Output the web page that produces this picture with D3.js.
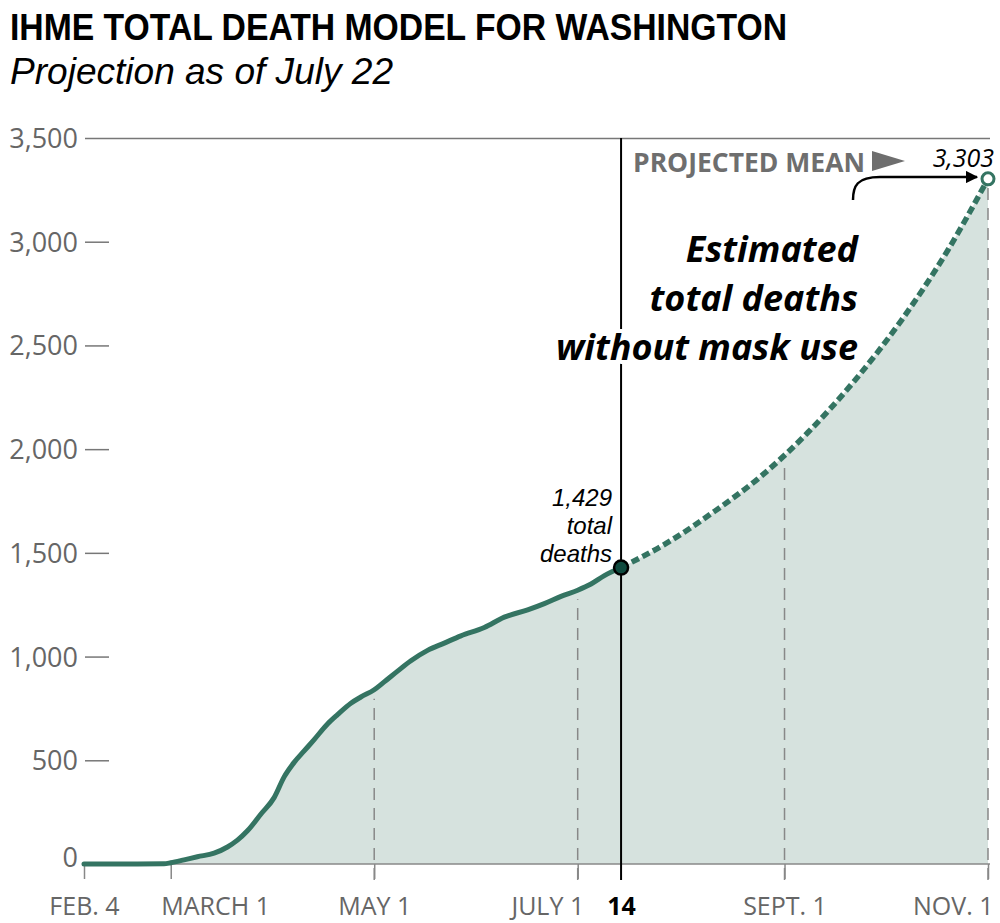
<!DOCTYPE html>
<html lang="en">
  <head>
    <meta charset="UTF-8" />
    <title>IHME Total Death Model for Washington</title>
    <script src="https://cdnjs.cloudflare.com/ajax/libs/d3/7.8.5/d3.min.js"></script>
    <style>
      body { margin: 0; background: #fff; }
      svg { display: block; }
      .cond { font-family: "Open Sans", sans-serif; }
      .head { font-family: "Liberation Sans", Arial, sans-serif; }
    </style>
  </head>
  <body>
    <div id="chart"></div>

    <script>
      // Observed cumulative deaths
      const actualDates = [
        "2020-02-04", "2020-02-20", "2020-02-28", "2020-03-01", "2020-03-05",
        "2020-03-09", "2020-03-14", "2020-03-18", "2020-03-21", "2020-03-24",
        "2020-03-28", "2020-04-01", "2020-04-04", "2020-04-07", "2020-04-10",
        "2020-04-13", "2020-04-17", "2020-04-20", "2020-04-24", "2020-04-27",
        "2020-05-01", "2020-05-04", "2020-05-08", "2020-05-12", "2020-05-17",
        "2020-05-22", "2020-05-27", "2020-06-03", "2020-06-09", "2020-06-16",
        "2020-06-21", "2020-06-26", "2020-07-01", "2020-07-05", "2020-07-09",
        "2020-07-14"
      ];
      const actualValues = [
        0, 0, 1, 6, 20,
        35, 52, 82, 115, 160,
        240, 320, 420, 490, 545,
        600, 675, 720, 775, 805,
        840, 878, 930, 980, 1030,
        1065, 1100, 1140, 1190, 1225,
        1255, 1290, 1320, 1350, 1390,
        1429
      ];

      // Projected mean (no mask use)
      const projDates = [
        "2020-07-14", "2020-07-28", "2020-08-11", "2020-08-25", "2020-09-08",
        "2020-09-22", "2020-10-06", "2020-10-20", "2020-11-01"
      ];
      const projValues = [1429, 1550, 1700, 1870, 2080, 2330, 2620, 2960, 3303];

      const yTicks = [0, 500, 1000, 1500, 2000, 2500, 3000, 3500];
      const xTickDates = ["2020-02-04", "2020-03-01", "2020-05-01", "2020-07-01", "2020-07-14", "2020-09-01", "2020-11-01"];
      const xTickLabels = ["FEB. 4", "MARCH 1", "MAY 1", "JULY 1", "14", "SEPT. 1", "NOV. 1"];
      const gridDates = ["2020-05-01", "2020-07-01", "2020-09-01", "2020-11-01"];

      const parse = d3.timeParse("%Y-%m-%d");
      const actual = actualDates.map((d, i) => ({ date: parse(d), value: actualValues[i] }));
      const proj = projDates.map((d, i) => ({ date: parse(d), value: projValues[i] }));
      const all = actual.concat(proj.slice(1));

      const width = 1000;
      const height = 923;
      const green = "#347462";
      const fillColor = "#d6e2de";
      const gray = "#666";

      const svg = d3.select("#chart").append("svg")
        .attr("width", width).attr("height", height);

      const x = d3.scaleTime()
        .domain([parse("2020-02-04"), parse("2020-11-01")])
        .range([84, 988]);
      const y = d3.scaleLinear().domain([0, 3500]).range([864, 138]);

      // title (squeezed to mimic the condensed face)
      svg.append("text").attr("class", "head")
        .attr("x", 10).attr("y", 40)
        .attr("font-size", 37).attr("font-weight", "bold")
        .attr("textLength", 777).attr("lengthAdjust", "spacingAndGlyphs")
        .text("IHME TOTAL DEATH MODEL FOR WASHINGTON");
      svg.append("text").attr("class", "head")
        .attr("x", 10).attr("y", 84)
        .attr("font-size", 36).attr("font-style", "italic")
        .attr("textLength", 383).attr("lengthAdjust", "spacingAndGlyphs")
        .text("Projection as of July 22");

      // area
      const area = d3.area().curve(d3.curveMonotoneX)
        .x(d => x(d.date)).y0(y(0)).y1(d => y(d.value));
      svg.append("path").datum(all).attr("d", area).attr("fill", fillColor);

      // value along the curve at a date
      const bis = d3.bisector(d => d.date).left;
      function valueAt(date) {
        const i = bis(all, date);
        if (i <= 0) return all[0].value;
        if (i >= all.length) return all[all.length - 1].value;
        const a = all[i - 1], b = all[i];
        const t = (date - a.date) / (b.date - a.date);
        return a.value + t * (b.value - a.value);
      }

      // dashed gridlines under the curve
      svg.append("g").selectAll("line")
        .data(gridDates.map(parse))
        .join("line")
        .attr("x1", d => x(d)).attr("x2", d => x(d))
        .attr("y1", 880).attr("y2", d => y(valueAt(d)) + 9)
        .attr("stroke", "#888").attr("stroke-width", 1.5)
        .attr("stroke-dasharray", "12,8");

      // y axis
      const yAxis = d3.axisLeft(y).tickValues(yTicks).tickSize(0).tickPadding(0)
        .tickFormat(d3.format(","));
      const yg = svg.append("g").attr("transform", "translate(78,0)").call(yAxis);
      yg.select(".domain").remove();
      yg.selectAll("text")
        .attr("font-family", "'Open Sans', sans-serif")
        .attr("font-size", 27).attr("fill", gray)
        .attr("dy", d => d === 0 ? "0.1em" : "0.35em");
      yg.selectAll(".tick").append("line")
        .attr("x1", 7).attr("x2", d => d === 3500 ? 912 : 31)
        .attr("stroke", "#777").attr("stroke-width", 1.5);

      // x axis
      const xAxis = d3.axisBottom(x)
        .tickValues(xTickDates.map(parse))
        .tickSize(15).tickPadding(18)
        .tickFormat((d, i) => xTickLabels[i]);
      const xg = svg.append("g").attr("transform", `translate(0,${y(0)})`).call(xAxis);
      xg.select(".domain").attr("d", `M${x.range()[0]},0H990`).attr("stroke", "#888").attr("stroke-width", 1.5);
      xg.selectAll(".tick line").attr("stroke", "#888").attr("stroke-width", 1.5)
        .attr("opacity", (d, i) => xTickLabels[i] === "14" ? 0 : 1);
      const anchors = { "MARCH 1": ["start", -10], "JULY 1": ["end", 6], "NOV. 1": ["end", 5] };
      xg.selectAll(".tick text")
        .attr("class", "cond")
        .attr("font-size", 25)
        .attr("fill", (d, i) => xTickLabels[i] === "14" ? "#000" : gray)
        .attr("font-weight", (d, i) => xTickLabels[i] === "14" ? "bold" : "normal")
        .attr("text-anchor", (d, i) => (anchors[xTickLabels[i]] || ["middle"])[0])
        .attr("dx", (d, i) => (anchors[xTickLabels[i]] || ["middle", 0])[1]);

      // July 14 marker line
      const x14 = x(parse("2020-07-14"));
      svg.append("line")
        .attr("x1", x14).attr("x2", x14)
        .attr("y1", y(3500)).attr("y2", 880)
        .attr("stroke", "#000").attr("stroke-width", 2);

      // lines
      const line = d3.line().curve(d3.curveMonotoneX)
        .x(d => x(d.date)).y(d => y(d.value));
      svg.append("path").datum(proj).attr("d", line)
        .attr("fill", "none").attr("stroke", green).attr("stroke-width", 5.5)
        .attr("stroke-dasharray", "8,4");
      svg.append("path").datum(actual).attr("d", line)
        .attr("fill", "none").attr("stroke", green).attr("stroke-width", 5)
        .attr("stroke-linecap", "round").attr("stroke-linejoin", "round");

      // annotation: current total
      const last = actual[actual.length - 1];
      svg.append("circle")
        .attr("cx", x(last.date)).attr("cy", y(last.value)).attr("r", 7)
        .attr("fill", "#0f4a3e").attr("stroke", "#000").attr("stroke-width", 2.5);
      const noteA = svg.append("text")
        .attr("font-family", "'Liberation Sans', sans-serif")
        .attr("font-size", 24).attr("font-style", "italic")
        .attr("text-anchor", "end");
      [d3.format(",")(last.value), "total", "deaths"].forEach((t, i) => {
        noteA.append("tspan").attr("x", x14 - 9).attr("y", y(last.value) - 62 + i * 28).text(t);
      });

      // annotation: projected end
      const end = proj[proj.length - 1];
      svg.append("circle")
        .attr("cx", x(end.date)).attr("cy", y(end.value)).attr("r", 6)
        .attr("fill", "#fff").attr("stroke", green).attr("stroke-width", 3);
      svg.append("text").attr("class", "cond")
        .attr("x", 994).attr("y", 167)
        .attr("font-size", 25).attr("font-style", "italic").attr("text-anchor", "end")
        .text(d3.format(",")(end.value));

      svg.append("text").attr("class", "cond")
        .attr("x", 633).attr("y", 172)
        .attr("font-size", 27).attr("font-weight", "bold").attr("fill", "#6e6e6e")
        .attr("textLength", 232).attr("lengthAdjust", "spacingAndGlyphs")
        .text("PROJECTED MEAN");
      svg.append("path")
        .attr("d", "M872,151L905,161L872,171Z")
        .attr("fill", "#6e6e6e");

      svg.append("defs").append("marker")
        .attr("id", "arrow").attr("viewBox", "0 0 10 10")
        .attr("refX", 9).attr("refY", 5)
        .attr("markerWidth", 5).attr("markerHeight", 5)
        .attr("orient", "auto")
        .append("path").attr("d", "M0,0L10,5L0,10Z").attr("fill", "#000");
      svg.append("path")
        .attr("d", "M853,200C853,186 857,177 880,177L977,177")
        .attr("fill", "none").attr("stroke", "#000").attr("stroke-width", 2.5)
        .attr("marker-end", "url(#arrow)");

      const noteB = svg.append("text").attr("class", "cond")
        .attr("font-size", 36).attr("font-weight", "bold").attr("font-style", "italic")
        .attr("text-anchor", "end")
        .attr("stroke", "#fff").attr("stroke-width", 8).attr("paint-order", "stroke")
        .attr("stroke-linejoin", "round");
      ["Estimated", "total deaths", "without mask use"].forEach((t, i) => {
        noteB.append("tspan").attr("x", 858).attr("y", 262 + i * 49).text(t);
      });
    </script>
  </body>
</html>
